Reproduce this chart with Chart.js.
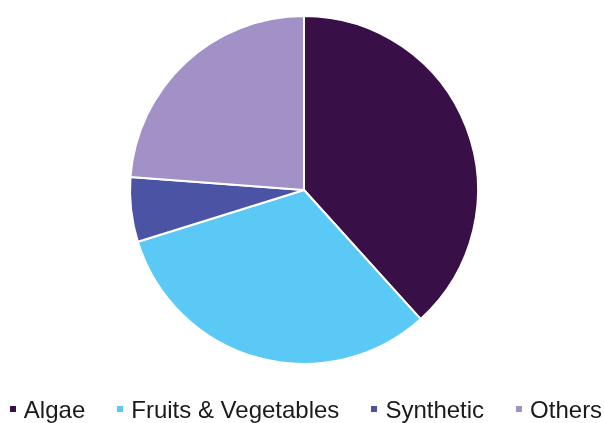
<!DOCTYPE html>
<html>
<head>
<meta charset="utf-8">
<script src="https://cdn.jsdelivr.net/npm/chart.js@4/dist/chart.umd.min.js"></script>
<style>
html,body{margin:0;padding:0;background:#fff;}
#wrap{width:604px;height:423px;position:relative;overflow:hidden;}
#c{position:absolute;left:0;top:0;}
#legend{position:absolute;left:0;top:398px;width:604px;height:24px;display:flex;justify-content:center;padding-left:8px;box-sizing:border-box;
  font-family:"Liberation Sans", Arial, sans-serif;font-size:24px;line-height:24px;color:#1a1a1a;white-space:nowrap;}
.item{display:flex;align-items:center;margin:0 16px;}
.item:first-child{margin-left:0;}
.item:last-child{margin-right:0;}
.sw{width:6px;height:6px;margin-right:8px;position:relative;top:-1px;}
</style>
</head>
<body>
<div id="wrap"><canvas id="c" width="604" height="423"></canvas><div id="legend"></div></div>
<script>
const categories = ["Algae", "Fruits & Vegetables", "Synthetic", "Others"];
const shares = [38.3, 31.9, 6.0, 23.8];
const colors = ["#390f48", "#5bc9f5", "#4a53a4", "#a291c6"];

const chart = new Chart(document.getElementById('c'), {
  type: 'pie',
  data: {
    labels: categories,
    datasets: [{
      data: shares,
      backgroundColor: colors,
      borderColor: '#ffffff',
      borderWidth: 2
    }]
  },
  options: {
    responsive: false,
    animation: false,
    radius: 174,
    layout: { padding: { top: 16, bottom: 59, left: 4, right: 0 } },
    plugins: {
      tooltip: { enabled: false },
      legend: { display: false }
    }
  }
});

const legend = document.getElementById('legend');
categories.forEach((name, i) => {
  const item = document.createElement('div');
  item.className = 'item';
  const sw = document.createElement('span');
  sw.className = 'sw';
  sw.style.background = colors[i];
  const txt = document.createElement('span');
  txt.textContent = name;
  item.appendChild(sw);
  item.appendChild(txt);
  legend.appendChild(item);
});
</script>
</body>
</html>
